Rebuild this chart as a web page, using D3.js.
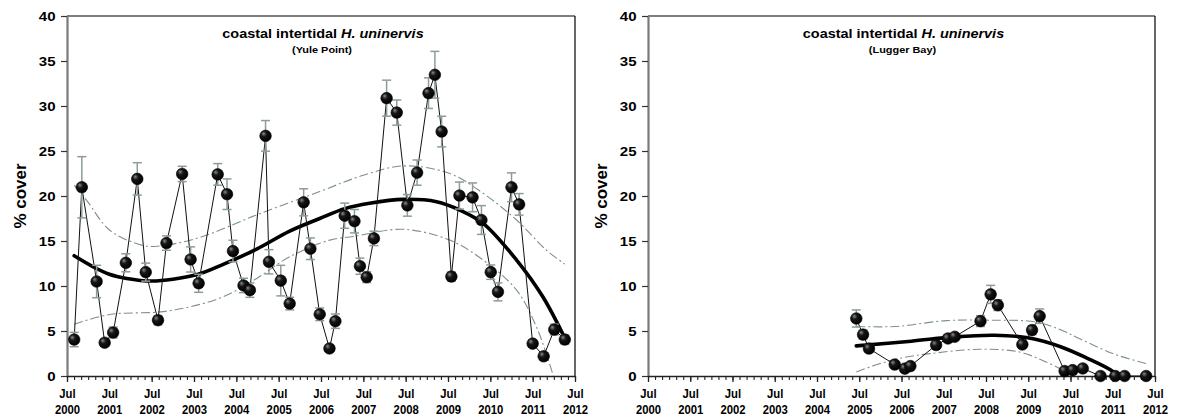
<!DOCTYPE html>
<html>
<head>
<meta charset="utf-8">
<script src="https://cdn.jsdelivr.net/npm/d3@7"></script>
<style>
  html, body { margin: 0; padding: 0; background: #fff; }
  svg { display: block; font-family: "Liberation Sans", Arial, sans-serif; }
</style>
</head>
<body>
<svg id="chart" width="1177" height="417"></svg>
<script>
// ---------------- DATA ----------------
// time as decimal years
const tickYears = [2000, 2001, 2002, 2003, 2004, 2005, 2006, 2007, 2008, 2009, 2010, 2011, 2012];
const yTicks = [0, 5, 10, 15, 20, 25, 30, 35, 40];

// Yule Point
const yuleT = [2000.67, 2000.85, 2001.20, 2001.39, 2001.59, 2001.89, 2002.16, 2002.36, 2002.65, 2002.85,
  2003.22, 2003.42, 2003.61, 2004.06, 2004.28, 2004.42, 2004.67, 2004.82, 2005.19, 2005.27,
  2005.55, 2005.76, 2006.09, 2006.25, 2006.47, 2006.70, 2006.84, 2007.06, 2007.29, 2007.42,
  2007.58, 2007.75, 2008.05, 2008.29, 2008.54, 2008.77, 2009.04, 2009.19, 2009.35, 2009.58,
  2009.77, 2010.08, 2010.29, 2010.51, 2010.68, 2011.00, 2011.18, 2011.50, 2011.76, 2012.01, 2012.26];
const yuleCover = [4.05, 20.97, 10.5, 3.7, 4.83, 12.58, 21.9, 11.54, 6.2, 14.77,
  22.45, 12.95, 10.3, 22.4, 20.2, 13.88, 10.06, 9.54, 26.68, 12.69,
  10.6, 8.05, 19.3, 14.14, 6.86, 3.06, 6.09, 17.81, 17.2, 12.2,
  10.98, 15.29, 30.87, 29.27, 18.96, 22.6, 31.43, 33.47, 27.16, 11.05,
  20.05, 19.85, 17.33, 11.54, 9.35, 20.97, 19.07, 3.6, 2.19, 5.16, 4.05];
const yuleErr = [0.8, 3.4, 1.8, 0.4, 0.6, 1.0, 1.8, 1.0, 0.5, 0.8,
  0.85, 1.4, 1.0, 1.2, 1.7, 1.2, 0.8, 0.8, 1.7, 1.35,
  1.7, 0.7, 1.5, 1.2, 0.7, 0.3, 0.8, 1.4, 1.3, 0.9,
  0.6, 0.8, 2.0, 1.4, 1.2, 1.4, 1.7, 2.6, 1.7, 0.5,
  1.5, 1.6, 1.6, 0.8, 1.0, 1.6, 1.2, 0.3, 0.3, 0.6, 0.5];
const yuleFitT = [2000.67, 2001.12, 2001.5, 2001.91, 2002.5, 2003.0, 2003.6, 2004.19, 2004.98, 2005.76,
  2006.47, 2007.06, 2007.65, 2008.44, 2009.23, 2009.78, 2010.33, 2011.12, 2011.74, 2012.26];
const yuleFit = [13.36, 12.13, 11.3, 10.84, 10.55, 10.75, 11.3, 12.4, 14.1, 16.1,
  17.5, 18.6, 19.2, 19.63, 19.37, 18.44, 16.96, 12.88, 8.8, 4.2];
const yuleUpT = [2000.67, 2000.96, 2001.51, 2002.3, 2002.7, 2003.64, 2004.98, 2006.47, 2007.5, 2008.44,
  2009.54, 2010.33, 2011.12, 2011.82, 2012.26];
const yuleUp = [21.2, 19.55, 16.2, 14.5, 14.45, 15.4, 17.9, 20.5, 22.3, 23.34,
  22.5, 20.3, 17.33, 14.0, 12.43];
const yuleLoT = [2000.67, 2001.51, 2002.7, 2003.4, 2004.19, 2004.98, 2005.76, 2006.71, 2007.26, 2008.44,
  2009.54, 2010.33, 2011.12, 2011.59, 2011.99];
const yuleLo = [5.75, 6.83, 7.12, 7.68, 8.8, 10.84, 13.25, 15.1, 15.5, 16.3,
  15.1, 12.88, 9.54, 5.45, 0.0];

// Lugger Bay
const luggerT = [2005.43, 2005.59, 2005.73, 2006.34, 2006.58, 2006.71, 2007.32, 2007.60, 2007.76, 2008.37,
  2008.61, 2008.78, 2009.36, 2009.59, 2009.77, 2010.36, 2010.55, 2010.79, 2011.21, 2011.56, 2011.78, 2012.29];
const luggerCover = [6.39, 4.6, 3.05, 1.27, 0.82, 1.1, 3.44, 4.17, 4.36, 6.1,
  9.07, 7.87, 3.5, 5.1, 6.65, 0.55, 0.65, 0.84, 0, 0, 0, 0];
const luggerErr = [0.95, 0.5, 0.4, 0.3, 0.2, 0.2, 0.3, 0.4, 0.3, 0.6,
  1.0, 0.6, 0.3, 0.5, 0.8, 0.1, 0.1, 0.1, 0, 0, 0, 0];
const luggerFitT = [2005.43, 2006.73, 2007.76, 2008.7, 2009.49, 2010.28, 2010.91, 2011.46, 2011.62];
const luggerFit = [3.35, 3.87, 4.35, 4.53, 4.24, 3.23, 1.94, 0.63, 0.0];
const luggerUpT = [2005.43, 2006.35, 2007.56, 2008.58, 2009.69, 2010.28, 2010.71, 2011.5, 2012.29];
const luggerUp = [5.5, 5.5, 6.15, 6.2, 6.0, 5.1, 4.16, 2.49, 1.38];
const luggerLoT = [2005.43, 2005.94, 2006.4, 2006.73, 2007.17, 2008.35, 2009.29, 2009.92, 2010.4, 2010.55];
const luggerLo = [0.45, 1.3, 1.9, 2.2, 2.49, 2.97, 2.67, 1.56, 0.45, 0.0];

const titleMain = "coastal intertidal ";
const titleSpecies = "H. uninervis";
const yLabel = "% cover";
const monthLabel = "Jul";

const panels = [
  { site: "(Yule Point)", t: yuleT, v: yuleCover, e: yuleErr,
    fitT: yuleFitT, fit: yuleFit, upT: yuleUpT, up: yuleUp, loT: yuleLoT, lo: yuleLo,
    left: 67, right: 575 },
  { site: "(Lugger Bay)", t: luggerT, v: luggerCover, e: luggerErr,
    fitT: luggerFitT, fit: luggerFit, upT: luggerUpT, up: luggerUp, loT: luggerLoT, lo: luggerLo,
    left: 648, right: 1155 }
];

// ---------------- DRAWING ----------------
const svg = d3.select("#chart");
const plotTop = 16, plotBottom = 376;
const ebColor = "#8c9c9c";
const bandColor = "#7d9090";

const defs = svg.append("defs");
const grad = defs.append("radialGradient").attr("id", "ball")
  .attr("cx", "40%").attr("cy", "40%").attr("r", "60%").attr("fx", "32%").attr("fy", "30%");
grad.append("stop").attr("offset", "0%").attr("stop-color", "#8a8a8a");
grad.append("stop").attr("offset", "40%").attr("stop-color", "#161616");
grad.append("stop").attr("offset", "100%").attr("stop-color", "#000");

panels.forEach((p, pi) => {
  const x = d3.scaleLinear().domain([2000.5, 2012.5]).range([p.left, p.right]);
  const y = d3.scaleLinear().domain([0, 40]).range([plotBottom, plotTop]);
  const g = svg.append("g");

  const clipId = "clip" + pi;
  defs.append("clipPath").attr("id", clipId).append("rect")
    .attr("x", p.left).attr("y", plotTop).attr("width", p.right - p.left).attr("height", plotBottom - plotTop);

  // frame (top + right)
  g.append("line").attr("x1", p.left).attr("x2", p.right).attr("y1", plotTop).attr("y2", plotTop)
    .attr("stroke", "#000").attr("stroke-width", 1.2);
  g.append("line").attr("x1", p.right).attr("x2", p.right).attr("y1", plotTop).attr("y2", plotBottom)
    .attr("stroke", "#000").attr("stroke-width", 1.2);

  // y axis
  const ya = g.append("g").attr("transform", `translate(${p.left},0)`)
    .call(d3.axisLeft(y).tickValues(yTicks).tickSize(6).tickSizeOuter(0).tickFormat(d3.format("d")));
  ya.select(".domain").attr("stroke", "#7a7a7a").attr("stroke-width", 2.2);
  ya.selectAll(".tick line").attr("stroke", "#333").attr("stroke-width", 1.2);
  ya.selectAll(".tick text")
    .attr("font-size", 12).attr("font-weight", "bold").attr("fill", "#000")
    .attr("font-family", "'Liberation Sans', Arial, sans-serif")
    .attr("x", -11.5 / 1.25).attr("dy", "0.36em")
    .attr("transform", "scale(1.25,1)");

  // x axis: minor ticks every 2 months
  const minorTicks = d3.range(0, 73).map(k => 2000.5 + k / 6);
  const xm = g.append("g").attr("transform", `translate(0,${plotBottom})`)
    .call(d3.axisBottom(x).tickValues(minorTicks).tickSize(4).tickSizeOuter(0).tickFormat(""));
  xm.select(".domain").attr("stroke", "#222").attr("stroke-width", 1.6);
  xm.selectAll(".tick line").attr("stroke", "#222").attr("stroke-width", 1.1);

  const majors = tickYears.map(yr => yr + 0.5);
  const xa = g.append("g").attr("transform", `translate(0,${plotBottom})`)
    .call(d3.axisBottom(x).tickValues(majors).tickSize(6).tickSizeOuter(0).tickFormat(""));
  xa.select(".domain").remove();
  xa.selectAll(".tick line").attr("stroke", "#222").attr("stroke-width", 1.3);
  xa.selectAll(".tick").each(function (d, i) {
    const t = d3.select(this);
    const lab = t.append("text").attr("text-anchor", "middle")
      .attr("font-size", 13).attr("font-weight", "bold").attr("fill", "#000")
      .attr("font-family", "'Liberation Sans', Arial, sans-serif")
      .attr("transform", "scale(0.87,1)");
    lab.append("tspan").attr("x", 0).attr("y", 22).text(monthLabel);
    lab.append("tspan").attr("x", 0).attr("y", 38.5).text(tickYears[i]);
  });

  // y label
  const ylx = p.left - 41.5;
  g.append("text")
    .attr("transform", `translate(${ylx},${(plotTop + plotBottom) / 2}) rotate(-90)`)
    .attr("text-anchor", "middle")
    .attr("font-size", 17).attr("font-weight", "bold").attr("fill", "#000")
    .text(yLabel);

  // titles
  const cx = (p.left + p.right) / 2;
  const tt = g.append("text")
    .attr("transform", `translate(${cx + 2},37.5) scale(1.07,1)`)
    .attr("text-anchor", "middle").attr("font-size", 13.5).attr("font-weight", "bold").attr("fill", "#000");
  tt.append("tspan").text(titleMain);
  tt.append("tspan").attr("font-style", "italic").text(titleSpecies);
  g.append("text")
    .attr("transform", `translate(${cx + 1},52.5) scale(1.15,1)`)
    .attr("text-anchor", "middle").attr("font-size", 9.5).attr("font-weight", "bold").attr("fill", "#000")
    .text(p.site);

  const plot = g.append("g").attr("clip-path", `url(#${clipId})`);
  const smooth = d3.line().x(d => x(d[0])).y(d => y(d[1])).curve(d3.curveCatmullRom.alpha(0.5));

  // confidence bands
  [[p.upT, p.up], [p.loT, p.lo]].forEach(([tt2, vv]) => {
    plot.append("path").datum(tt2.map((t, i) => [t, vv[i]]))
      .attr("d", smooth).attr("fill", "none")
      .attr("stroke", bandColor).attr("stroke-width", 1.1)
      .attr("stroke-dasharray", "9,3,2,3");
  });

  // fitted trend
  plot.append("path").datum(p.fitT.map((t, i) => [t, p.fit[i]]))
    .attr("d", smooth).attr("fill", "none")
    .attr("stroke", "#000").attr("stroke-width", 3.6).attr("stroke-linecap", "round");

  const pts = p.t.map((t, i) => ({ t, v: p.v[i], e: p.e[i] }));

  // connecting line
  g.append("path").datum(pts)
    .attr("d", d3.line().x(d => x(d.t)).y(d => y(d.v)))
    .attr("fill", "none").attr("stroke", "#111").attr("stroke-width", 1);

  // error bars
  const eb = g.append("g").attr("stroke", ebColor).attr("stroke-width", 1.5).attr("fill", "none");
  pts.filter(d => d.e > 0).forEach(d => {
    const xx = x(d.t), yh = y(d.v + d.e), yl = y(d.v - d.e);
    eb.append("line").attr("x1", xx).attr("x2", xx).attr("y1", yh).attr("y2", yl);
    eb.append("line").attr("x1", xx - 4.5).attr("x2", xx + 4.5).attr("y1", yh).attr("y2", yh);
    eb.append("line").attr("x1", xx - 4.5).attr("x2", xx + 4.5).attr("y1", yl).attr("y2", yl);
  });

  // points
  g.append("g").selectAll("circle").data(pts).join("circle")
    .attr("cx", d => x(d.t)).attr("cy", d => y(d.v)).attr("r", 5.8)
    .attr("fill", "url(#ball)").attr("stroke", "#000").attr("stroke-width", 0.6);
});
</script>
</body>
</html>
